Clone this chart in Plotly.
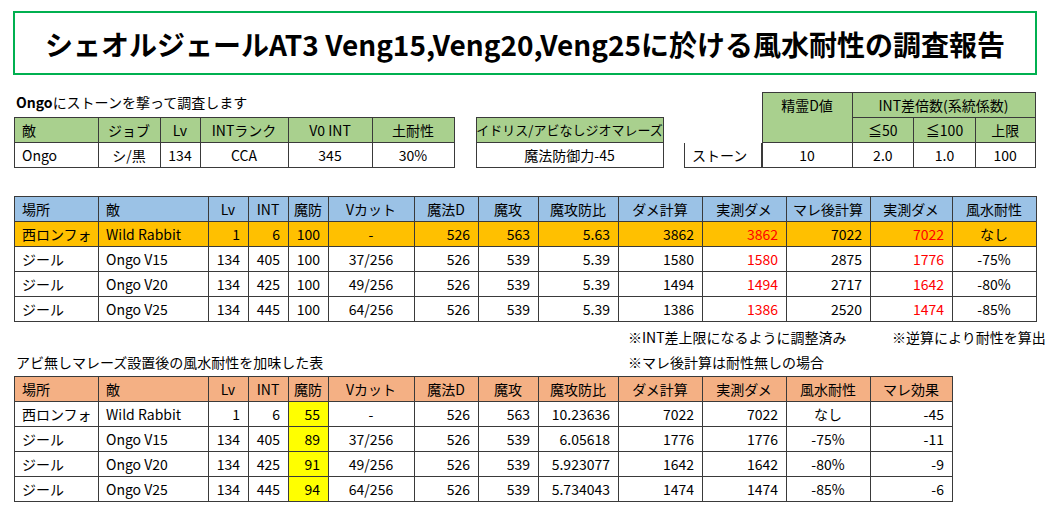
import plotly.graph_objects as go

W, H = 1060, 530
FONT = "Noto Sans CJK JP"
OFF = 8  # page margin around the figure

# ---- data ----
title = "シェオルジェールAT3 Veng15,Veng20,Veng25に於ける風水耐性の調査報告"

enemy_cols = ["敵", "ジョブ", "Lv", "INTランク", "V0 INT", "土耐性"]
enemy_row = ["Ongo", "シ/黒", "134", "CCA", "345", "30%"]
geo_col = ["イドリス/アビなしジオマレーズ"]
geo_row = ["魔法防御力-45"]

spell = "ストーン"
spirit_d = 10
int_cols = ["≦50", "≦100", "上限"]
int_vals = ["2.0", "1.0", "100"]

main_cols = ["場所", "敵", "Lv", "INT", "魔防", "Vカット", "魔法D", "魔攻", "魔攻防比",
             "ダメ計算", "実測ダメ", "マレ後計算", "実測ダメ", "風水耐性"]
place = ["西ロンフォ", "ジール", "ジール", "ジール"]
enemy = ["Wild Rabbit", "Ongo V15", "Ongo V20", "Ongo V25"]
lv = [1, 134, 134, 134]
int_v = [6, 405, 425, 445]
mdef = [100, 100, 100, 100]
vcut = ["-", "37/256", "49/256", "64/256"]
magic_d = [526, 526, 526, 526]
matk = [563, 539, 539, 539]
ratio = ["5.63", "5.39", "5.39", "5.39"]
dmg_calc = [3862, 1580, 1494, 1386]
dmg_meas = [3862, 1580, 1494, 1386]
mal_calc = [7022, 2875, 2717, 2520]
mal_meas = [7022, 1776, 1642, 1474]
resist = ["なし", "-75%", "-80%", "-85%"]

low_cols = ["場所", "敵", "Lv", "INT", "魔防", "Vカット", "魔法D", "魔攻", "魔攻防比",
            "ダメ計算", "実測ダメ", "風水耐性", "マレ効果"]
mdef2 = [55, 89, 91, 94]
ratio2 = ["10.23636", "6.05618", "5.923077", "5.734043"]
dmg_calc2 = [7022, 1776, 1642, 1474]
dmg_meas2 = [7022, 1776, 1642, 1474]
mal_effect = [-45, -11, -9, -6]

fig = go.Figure()
BORDER = "#3a3a3a"


def px(x):
    return (x - OFF) / W


def py(y):
    return 1 - (y - OFF) / H


def add_table(x0, y0, widths, header, cells, hfill, cfill="white", fcolor="black",
              hh=25, ch=25, hline=BORDER, halign="center", calign="center", hsize=14):
    nrows = len(cells[0]) if cells else 0
    total = hh + ch * nrows + 2
    x1 = x0 + sum(widths)
    fig.add_trace(go.Table(
        domain=dict(x=[px(x0), px(x1)], y=[max(0, py(y0 + total + 4)), py(y0)]),
        columnwidth=widths,
        header=dict(values=header, fill_color=hfill, line_color=hline, height=hh,
                    align=halign, font=dict(family=FONT, size=hsize, color="black")),
        cells=dict(values=cells, fill_color=cfill, line_color=BORDER, height=ch,
                   align=calign, font=dict(family=FONT, size=14, color=fcolor)),
    ))


GREEN = "#a9d08e"
BLUE = "#9bc2e6"
SALMON = "#f4b084"
ORANGE = "#ffc000"

# enemy info
add_table(14, 117, [84, 62, 40, 88, 84, 82], enemy_cols, [[v] for v in enemy_row], GREEN,
          halign=["left", "center"], calign=["left", "center"])
add_table(476, 117, [188], geo_col, [geo_row], GREEN, hsize=13)

# right block
add_table(684, 92, [78], [""], [[spell]], "white", hh=50, hline="white", calign="left")
add_table(762, 92, [90], ["精霊D値"], [[spirit_d]], GREEN, hh=50)
add_table(852, 92, [184], ["INT差倍数(系統係数)"], [[]], GREEN)
add_table(852, 117, [62, 62, 60], int_cols, [[v] for v in int_vals], GREEN)

# main table
mw = [84, 110, 40, 40, 40, 86, 64, 60, 80, 84, 84, 84, 82, 84]
main_cells = [place, enemy, lv, int_v, mdef, vcut, magic_d, matk, ratio,
              dmg_calc, dmg_meas, mal_calc, mal_meas, resist]
row_fill = [ORANGE, "white", "white", "white"]
main_fill = [row_fill] * len(main_cols)
main_font = [["black"] * 4] * len(main_cols)
main_font[10] = ["#ff0000"] * 4
main_font[12] = ["#ff0000"] * 4
align_main = ["left", "left"] + ["right"] * 3 + ["center"] + ["right"] * 3 + ["right"] * 4 + ["center"]
add_table(14, 196, mw, main_cols, main_cells, BLUE, cfill=main_fill, fcolor=main_font,
          halign=["left", "left"] + ["center"] * 12, calign=align_main)

# lower table
lw = mw[:12] + [82]
low_cells = [place, enemy, lv, int_v, mdef2, vcut, magic_d, matk, ratio2,
             dmg_calc2, dmg_meas2, resist, mal_effect]
low_fill = [["white"] * 4] * len(low_cols)
low_fill[4] = ["#ffff00"] * 4
align_low = ["left", "left"] + ["right"] * 3 + ["center"] + ["right"] * 5 + ["center", "right"]
add_table(14, 376, lw, low_cols, low_cells, SALMON, cfill=low_fill,
          halign=["left", "left"] + ["center"] * 11, calign=align_low)

# title box
fig.add_shape(type="rect", xref="paper", yref="paper", x0=px(14), x1=px(1036),
              y0=py(74), y1=py(12), line=dict(color="#00b050", width=2), fillcolor="white")
fig.add_annotation(text="<b>" + title + "</b>", x=px(525), y=py(44), xref="paper", yref="paper",
                   showarrow=False, yanchor="middle", font=dict(family=FONT, size=28, color="black"))

notes = [
    ("<b>Ongo</b>にストーンを撃って調査します", 14, 102),
    ("※INT差上限になるように調整済み", 626, 337),
    ("※逆算により耐性を算出", 890, 337),
    ("アビ無しマレーズ設置後の風水耐性を加味した表", 14, 362),
    ("※マレ後計算は耐性無しの場合", 626, 362),
]
for txt, x, y in notes:
    fig.add_annotation(text=txt, x=px(x), y=py(y), xref="paper", yref="paper", showarrow=False,
                       xanchor="left", yanchor="middle", font=dict(family=FONT, size=14, color="black"))

fig.update_layout(width=W, height=H, margin=dict(l=0, r=0, t=0, b=0),
                  paper_bgcolor="white", plot_bgcolor="white")

fig.write_html("out.html")
